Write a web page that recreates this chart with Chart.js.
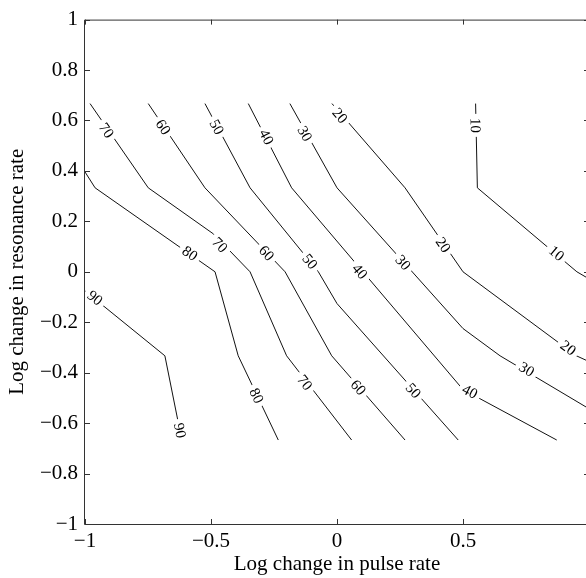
<!DOCTYPE html>
<html>
<head>
<meta charset="utf-8">
<script src="https://cdn.jsdelivr.net/npm/chart.js@4.4.0/dist/chart.umd.min.js"></script>
<style>
  html, body { margin: 0; padding: 0; background: #fff; overflow: hidden; }
  canvas { display: block; }
</style>
</head>
<body>
<canvas id="contourCanvas" width="600" height="578"></canvas>
<script>
const FONT = "'Liberation Serif', 'Times New Roman', serif";

// contour levels, each line as [pulse, resonance] pairs
const levels = [10, 20, 30, 40, 50, 60, 70, 80, 90];
const contour10 = [[0.55, 0.667], [0.557, 0.333], [0.952, 0], [1, -0.028]];
const contour20 = [[-0.02, 0.667], [0.27, 0.333], [0.5, 0], [0.95, -0.333], [1, -0.356]];
const contour30 = [[-0.187, 0.667], [0, 0.333], [0.5, -0.225], [0.647, -0.333], [1, -0.543]];
const contour40 = [[-0.352, 0.667], [-0.18, 0.333], [0.5, -0.467], [0.872, -0.667]];
const contour50 = [[-0.524, 0.667], [-0.345, 0.333], [-0.074, 0], [0, -0.126], [0.481, -0.667]];
const contour60 = [[-0.749, 0.667], [-0.524, 0.333], [-0.206, 0], [-0.021, -0.333], [0.27, -0.667]];
const contour70 = [[-0.98, 0.667], [-0.749, 0.333], [-0.49, 0.15], [-0.345, 0], [-0.2, -0.333], [0.058, -0.667]];
const contour80 = [[-1, 0.396], [-0.96, 0.333], [-0.484, 0], [-0.392, -0.333], [-0.233, -0.667]];
const contour90 = [[-1, -0.076], [-0.683, -0.333], [-0.616, -0.667]];
const contours = [contour10, contour20, contour30, contour40, contour50, contour60, contour70, contour80, contour90];

// where the level numbers are written along the lines
const labelLevels = [70, 60, 50, 40, 30, 20, 10, 80, 70, 60, 50, 40, 30, 20, 10, 90, 80, 70, 60, 50, 40, 30, 20, 90];
const labelX = [-0.914, -0.689, -0.477, -0.279, -0.127, 0.012, 0.55, -0.583, -0.464, -0.279, -0.107, 0.091, 0.263, 0.422, 0.872, -0.96, -0.319, -0.127, 0.085, 0.303, 0.528, 0.753, 0.918, -0.623];
const labelY = [0.561, 0.574, 0.574, 0.535, 0.548, 0.62, 0.581, 0.074, 0.107, 0.074, 0.041, 0.002, 0.037, 0.107, 0.074, -0.103, -0.491, -0.439, -0.458, -0.471, -0.474, -0.386, -0.301, -0.629];

const xTicks = [-1, -0.5, 0, 0.5, 1];
const yTicks = [-1, -0.8, -0.6, -0.4, -0.2, 0, 0.2, 0.4, 0.6, 0.8, 1];

function fmt(v) {
  const s = String(Math.abs(Number(v.toFixed(1))));
  return v < 0 ? '\u2212' + s : s;
}

// full frame with inward ticks on all four sides
const boxTicks = {
  id: 'boxTicks',
  afterDraw(chart) {
    const { ctx, chartArea: a, scales: { x, y } } = chart;
    const len = 5;
    ctx.save();
    ctx.strokeStyle = '#333';
    ctx.lineWidth = 1;
    ctx.beginPath();
    ctx.rect(a.left - 0.5, a.top + 0.5, a.right - a.left, a.bottom - a.top);
    xTicks.forEach(v => {
      const px = Math.round(x.getPixelForValue(v)) + 0.5;
      ctx.moveTo(px, a.bottom); ctx.lineTo(px, a.bottom - len);
      ctx.moveTo(px, a.top); ctx.lineTo(px, a.top + len);
    });
    yTicks.forEach(v => {
      const py = Math.round(y.getPixelForValue(v)) + 0.5;
      ctx.moveTo(a.left, py); ctx.lineTo(a.left + len, py);
      ctx.moveTo(a.right, py); ctx.lineTo(a.right - len, py);
    });
    ctx.stroke();
    ctx.restore();
  }
};

// level numbers written along each line, breaking it underneath
const contourLabels = {
  id: 'contourLabels',
  afterDatasetsDraw(chart) {
    const { ctx, scales: { x, y } } = chart;
    ctx.save();
    ctx.font = '15px ' + FONT;
    ctx.textAlign = 'center';
    ctx.textBaseline = 'middle';
    labelLevels.forEach((lv, i) => {
      const pts = contours[levels.indexOf(lv)].map(p => [x.getPixelForValue(p[0]), y.getPixelForValue(p[1])]);
      const px = x.getPixelForValue(labelX[i]);
      const py = y.getPixelForValue(labelY[i]);
      let best = Infinity, ang = 0;
      for (let k = 0; k < pts.length - 1; k++) {
        const [ax, ay] = pts[k], [bx, by] = pts[k + 1];
        const dx = bx - ax, dy = by - ay;
        const t = Math.max(0, Math.min(1, ((px - ax) * dx + (py - ay) * dy) / (dx * dx + dy * dy)));
        const d = Math.hypot(ax + t * dx - px, ay + t * dy - py);
        if (d < best) { best = d; ang = Math.atan2(dy, dx); }
      }
      if (ang > Math.PI / 2) ang -= Math.PI;
      if (ang <= -Math.PI / 2) ang += Math.PI;
      const txt = String(lv);
      const w = ctx.measureText(txt).width;
      ctx.save();
      ctx.translate(px, py);
      ctx.rotate(ang);
      ctx.fillStyle = '#fff';
      ctx.fillRect(-w / 2 - 4, -6, w + 8, 12);
      ctx.fillStyle = '#000';
      ctx.fillText(txt, 0, 1);
      ctx.restore();
    });
    ctx.restore();
  }
};

new Chart(document.getElementById('contourCanvas'), {
  type: 'scatter',
  data: {
    datasets: contours.map((c, i) => ({
      label: String(levels[i]),
      data: c.map(p => ({ x: p[0], y: p[1] })),
      showLine: true,
      borderColor: '#111',
      borderWidth: 1,
      pointRadius: 0,
      fill: false,
      tension: 0
    }))
  },
  options: {
    responsive: false,
    animation: false,
    layout: { padding: { top: 17, right: 11, left: 0, bottom: 0 } },
    plugins: { legend: { display: false }, tooltip: { enabled: false } },
    scales: {
      x: {
        type: 'linear',
        min: -1,
        max: 1,
        afterBuildTicks: s => { s.ticks = xTicks.map(v => ({ value: v })); },
        afterFit: s => { s.height = 54; },
        grid: { display: false, drawTicks: false },
        border: { display: false },
        ticks: {
          padding: 5,
          color: '#000',
          font: { family: FONT, size: 21 },
          maxRotation: 0,
          callback: v => (v === 1 ? '' : fmt(v))
        },
        title: {
          display: true,
          text: 'Log change in pulse rate',
          color: '#000',
          font: { family: FONT, size: 21 },
          padding: { top: 0, bottom: 1 }
        }
      },
      y: {
        type: 'linear',
        min: -1,
        max: 1,
        afterBuildTicks: s => { s.ticks = yTicks.map(v => ({ value: v })); },
        afterFit: s => { s.width = 85; },
        grid: { display: false, drawTicks: false },
        border: { display: false },
        ticks: {
          padding: 7,
          color: '#000',
          font: { family: FONT, size: 21 },
          callback: v => fmt(v)
        },
        title: {
          display: true,
          text: 'Log change in resonance rate',
          color: '#000',
          font: { family: FONT, size: 21 },
          padding: { top: 5, bottom: 0 }
        }
      }
    }
  },
  plugins: [contourLabels, boxTicks]
});
</script>
</body>
</html>
